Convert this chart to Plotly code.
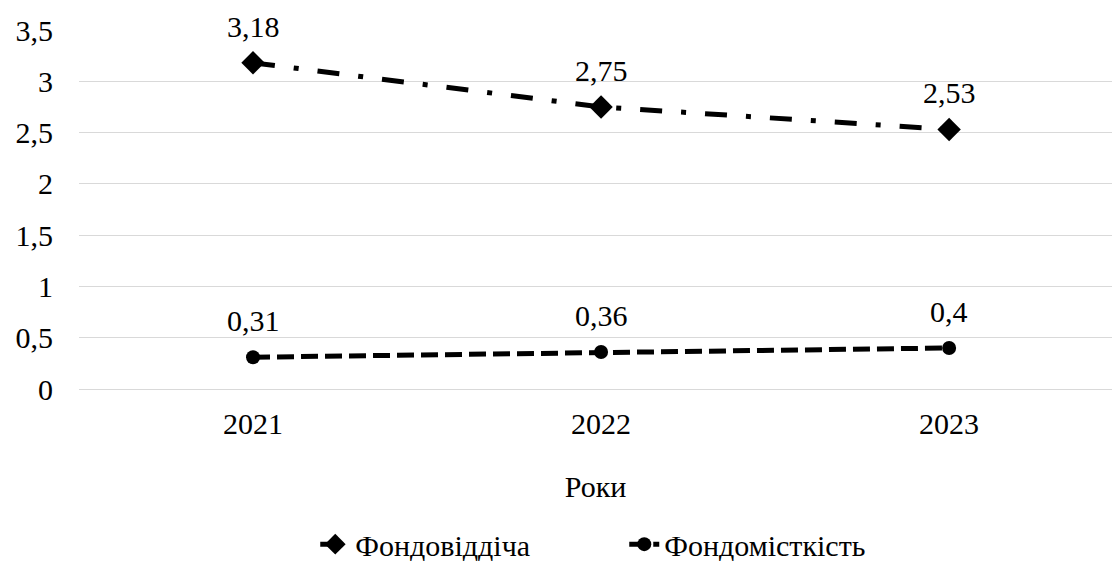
import plotly.graph_objects as go

years = ["2021", "2022", "2023"]
fondovidd = [3.18, 2.75, 2.53]
fondomist = [0.31, 0.36, 0.4]
y_ticks = [0, 0.5, 1, 1.5, 2, 2.5, 3, 3.5]
y_tick_text = ["0", "0,5", "1", "1,5", "2", "2,5", "3", "3,5"]

FONT = "Liberation Serif"
SIZE = 30


def fmt(v):
    return f"{v:g}".replace(".", ",")


fig = go.Figure()
fig.add_trace(go.Scatter(
    x=years, y=fondovidd, name="Фондовіддіча",
    mode="lines+markers",
    line=dict(color="black", width=5, dash="22px,19px,5px,19px"),
    marker=dict(symbol="diamond", size=18, color="black"),
    cliponaxis=False,
))
fig.add_trace(go.Scatter(
    x=years, y=fondomist, name="Фондомісткість",
    mode="lines+markers",
    line=dict(color="black", width=5, dash="17px,7px"),
    marker=dict(symbol="circle", size=14, color="black"),
    cliponaxis=False,
))

# value labels above each point (category axis -> position by index)
for series in (fondovidd, fondomist):
    for i, v in enumerate(series):
        fig.add_annotation(
            x=i, y=v, text=fmt(v), showarrow=False,
            xanchor="center", yanchor="bottom", yshift=18,
            font=dict(family=FONT, size=SIZE, color="black"),
        )

fig.update_layout(
    width=1112, height=561,
    margin=dict(l=79, r=0, t=30, b=172, autoexpand=False),
    paper_bgcolor="white", plot_bgcolor="white",
    font=dict(family=FONT, size=SIZE, color="black"),
    showlegend=True,
    legend=dict(orientation="h", xref="container", x=0.2835, xanchor="left",
                yref="container", y=0.03, yanchor="middle",
                font=dict(family=FONT, size=SIZE),
                entrywidth=264, entrywidthmode="pixels"),
    xaxis=dict(
        type="category", range=[-0.5, 2.468], automargin=False,
        showgrid=False, showline=True, linecolor="#d9d9d9", linewidth=1.3,
        ticks="", ticklabelstandoff=8, tickfont=dict(family=FONT, size=SIZE),
        title=dict(text="Роки", font=dict(family=FONT, size=SIZE), standoff=36),
    ),
    yaxis=dict(
        range=[0, 3.5], tickvals=y_ticks, ticktext=y_tick_text, automargin=False,
        showgrid=True, gridcolor="#d9d9d9", gridwidth=1.3,
        zeroline=False, showline=False, ticks="",
        ticklabelstandoff=25,
        tickfont=dict(family=FONT, size=SIZE),
    ),
)

fig.write_html("out.html")
